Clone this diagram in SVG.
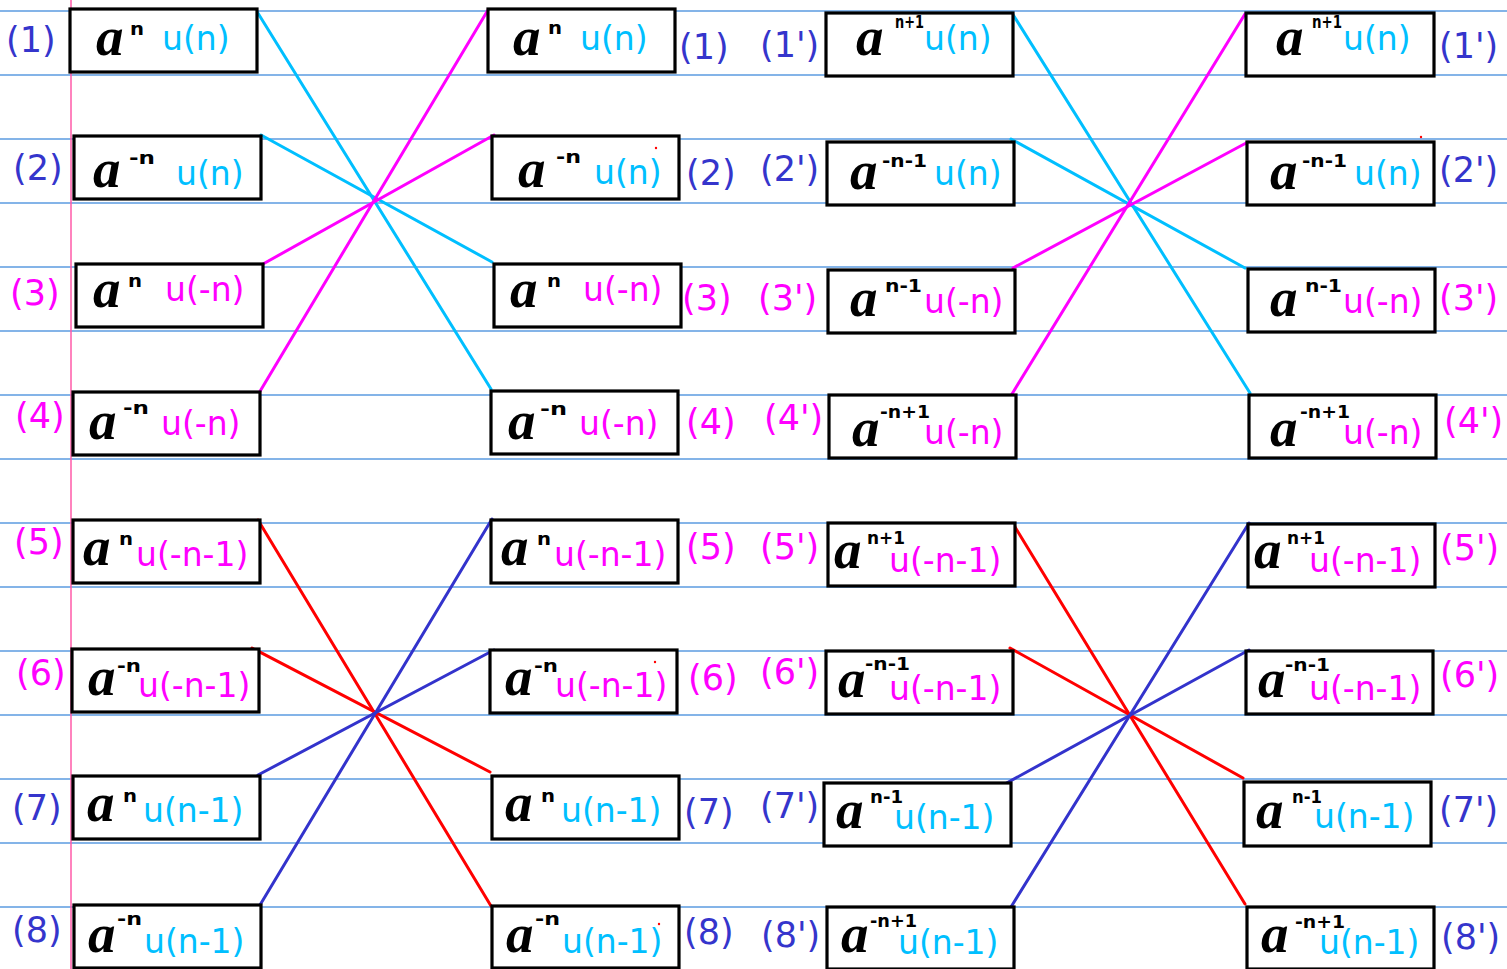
<svg xmlns="http://www.w3.org/2000/svg" width="1507" height="969" viewBox="0 0 1507 969">
<style>
.rule{stroke:#5b9be0;stroke-width:1.5}
.margin{stroke:#ff5aa8;stroke-width:1.5}
.box{fill:#fff;stroke:#000;stroke-width:3.2}
.a{font-family:"Liberation Serif",serif;font-style:italic;font-weight:bold;font-size:55px;fill:#000}
.sup{font-family:"DejaVu Sans",sans-serif;font-weight:bold;font-size:18px;fill:#000}
.u{font-family:"DejaVu Sans",sans-serif;font-size:33px}
.lb{font-family:"DejaVu Sans",sans-serif;font-size:35px}
.cy{fill:#00bfff}
.mg{fill:#ff00ff}
.bl{fill:#3535cc}
.c{stroke-width:3;fill:none;stroke-linecap:round}
.ccy{stroke:#00bfff}
.cmg{stroke:#ff00ff}
.cred{stroke:#ff0000}
.cbl{stroke:#3333cc}
</style>
<rect width="1507" height="969" fill="#fff"/>
<g id="paper">
<line class="rule" x1="0" y1="11" x2="1507" y2="11"/>
<line class="rule" x1="0" y1="75" x2="1507" y2="75"/>
<line class="rule" x1="0" y1="139" x2="1507" y2="139"/>
<line class="rule" x1="0" y1="203" x2="1507" y2="203"/>
<line class="rule" x1="0" y1="267" x2="1507" y2="267"/>
<line class="rule" x1="0" y1="331" x2="1507" y2="331"/>
<line class="rule" x1="0" y1="395" x2="1507" y2="395"/>
<line class="rule" x1="0" y1="459" x2="1507" y2="459"/>
<line class="rule" x1="0" y1="523" x2="1507" y2="523"/>
<line class="rule" x1="0" y1="587" x2="1507" y2="587"/>
<line class="rule" x1="0" y1="651" x2="1507" y2="651"/>
<line class="rule" x1="0" y1="715" x2="1507" y2="715"/>
<line class="rule" x1="0" y1="779" x2="1507" y2="779"/>
<line class="rule" x1="0" y1="843" x2="1507" y2="843"/>
<line class="rule" x1="0" y1="907" x2="1507" y2="907"/>
<line class="margin" x1="71" y1="0" x2="71" y2="969"/>
</g>
<g id="connectors">
<line class="c ccy" x1="256" y1="10" x2="491" y2="389"/>
<line class="c ccy" x1="261" y1="135" x2="492" y2="262"/>
<line class="c cmg" x1="259" y1="393" x2="488" y2="10"/>
<line class="c cmg" x1="263" y1="264" x2="494" y2="135"/>
<line class="c cred" x1="258" y1="520" x2="491" y2="906"/>
<line class="c cred" x1="252" y1="648" x2="490" y2="772"/>
<line class="c cbl" x1="258" y1="775" x2="494" y2="650"/>
<line class="c cbl" x1="260" y1="905" x2="492" y2="519"/>
<line class="c ccy" x1="1012" y1="13" x2="1250" y2="393"/>
<line class="c ccy" x1="1011" y1="139" x2="1245" y2="268"/>
<line class="c cmg" x1="1012" y1="394" x2="1245" y2="14"/>
<line class="c cmg" x1="1013" y1="268" x2="1248" y2="142"/>
<line class="c cred" x1="1015" y1="527" x2="1245" y2="904"/>
<line class="c cred" x1="1010" y1="648" x2="1243" y2="778"/>
<line class="c cbl" x1="1003" y1="785" x2="1249" y2="650"/>
<line class="c cbl" x1="1011" y1="907" x2="1249" y2="523"/>
</g>
<g id="c1n1"><rect class="box" x="70" y="9" width="187" height="63"/><text class="a" x="96" y="55">a</text><text class="sup" x="130" y="35" textLength="14" lengthAdjust="spacingAndGlyphs">n</text><text class="u cy" x="162" y="50">u(n)</text><text class="lb bl" x="6" y="52">(1)</text></g>
<g id="c1n2"><rect class="box" x="74" y="136" width="187" height="63"/><text class="a" x="93" y="187">a</text><text class="sup" x="129" y="164" textLength="26" lengthAdjust="spacingAndGlyphs">-n</text><text class="u cy" x="176" y="185">u(n)</text><text class="lb bl" x="13" y="180">(2)</text></g>
<g id="c1n3"><rect class="box" x="76" y="264" width="187" height="63"/><text class="a" x="93" y="307">a</text><text class="sup" x="128" y="287" textLength="14" lengthAdjust="spacingAndGlyphs">n</text><text class="u mg" x="165" y="301">u(-n)</text><text class="lb mg" x="10" y="305">(3)</text></g>
<g id="c1n4"><rect class="box" x="73" y="392" width="187" height="63"/><text class="a" x="89" y="439">a</text><text class="sup" x="123" y="414" textLength="26" lengthAdjust="spacingAndGlyphs">-n</text><text class="u mg" x="161" y="435">u(-n)</text><text class="lb mg" x="15" y="428">(4)</text></g>
<g id="c1n5"><rect class="box" x="73" y="520" width="187" height="63"/><text class="a" x="83" y="565">a</text><text class="sup" x="119" y="545" textLength="14" lengthAdjust="spacingAndGlyphs">n</text><text class="u mg" x="136" y="566">u(-n-1)</text><text class="lb mg" x="14" y="554">(5)</text></g>
<g id="c1n6"><rect class="box" x="72" y="649" width="187" height="63"/><text class="a" x="88" y="695">a</text><text class="sup" x="117" y="672" textLength="24" lengthAdjust="spacingAndGlyphs">-n</text><text class="u mg" x="138" y="697">u(-n-1)</text><text class="lb mg" x="16" y="685">(6)</text></g>
<g id="c1n7"><rect class="box" x="73" y="776" width="187" height="63"/><text class="a" x="87" y="821">a</text><text class="sup" x="123" y="802" textLength="14" lengthAdjust="spacingAndGlyphs">n</text><text class="u cy" x="143" y="822">u(n-1)</text><text class="lb bl" x="12" y="820">(7)</text></g>
<g id="c1n8"><rect class="box" x="74" y="905" width="187" height="63"/><text class="a" x="88" y="952">a</text><text class="sup" x="117" y="925" textLength="25" lengthAdjust="spacingAndGlyphs">-n</text><text class="u cy" x="144" y="953">u(n-1)</text><text class="lb bl" x="12" y="942">(8)</text></g>
<g id="c2n1"><rect class="box" x="488" y="9" width="187" height="63"/><text class="a" x="513" y="55">a</text><text class="sup" x="548" y="34" textLength="14" lengthAdjust="spacingAndGlyphs">n</text><text class="u cy" x="580" y="50">u(n)</text><text class="lb bl" x="679" y="59">(1)</text></g>
<g id="c2n2"><rect class="box" x="492" y="136" width="187" height="63"/><text class="a" x="518" y="187">a</text><text class="sup" x="556" y="163" textLength="25" lengthAdjust="spacingAndGlyphs">-n</text><text class="u cy" x="594" y="184">u(n)</text><text class="lb bl" x="686" y="185">(2)</text></g>
<g id="c2n3"><rect class="box" x="494" y="264" width="187" height="63"/><text class="a" x="510" y="307">a</text><text class="sup" x="547" y="287" textLength="14" lengthAdjust="spacingAndGlyphs">n</text><text class="u mg" x="583" y="301">u(-n)</text><text class="lb mg" x="682" y="310">(3)</text></g>
<g id="c2n4"><rect class="box" x="491" y="391" width="187" height="63"/><text class="a" x="508" y="439">a</text><text class="sup" x="540" y="415" textLength="27" lengthAdjust="spacingAndGlyphs">-n</text><text class="u mg" x="579" y="435">u(-n)</text><text class="lb mg" x="686" y="434">(4)</text></g>
<g id="c2n5"><rect class="box" x="491" y="520" width="187" height="63"/><text class="a" x="501" y="565">a</text><text class="sup" x="537" y="545" textLength="14" lengthAdjust="spacingAndGlyphs">n</text><text class="u mg" x="554" y="566">u(-n-1)</text><text class="lb mg" x="686" y="559">(5)</text></g>
<g id="c2n6"><rect class="box" x="490" y="650" width="187" height="63"/><text class="a" x="505" y="695">a</text><text class="sup" x="534" y="672" textLength="24" lengthAdjust="spacingAndGlyphs">-n</text><text class="u mg" x="555" y="697">u(-n-1)</text><text class="lb mg" x="688" y="690">(6)</text></g>
<g id="c2n7"><rect class="box" x="492" y="776" width="187" height="63"/><text class="a" x="505" y="821">a</text><text class="sup" x="541" y="802" textLength="14" lengthAdjust="spacingAndGlyphs">n</text><text class="u cy" x="561" y="822">u(n-1)</text><text class="lb bl" x="684" y="824">(7)</text></g>
<g id="c2n8"><rect class="box" x="492" y="906" width="187" height="62"/><text class="a" x="506" y="952">a</text><text class="sup" x="535" y="925" textLength="25" lengthAdjust="spacingAndGlyphs">-n</text><text class="u cy" x="562" y="953">u(n-1)</text><text class="lb bl" x="684" y="944">(8)</text></g>
<g id="c3n1"><rect class="box" x="826" y="13" width="187" height="63"/><text class="a" x="856" y="55">a</text><text class="sup" x="895" y="28" textLength="29" lengthAdjust="spacingAndGlyphs">n+1</text><text class="u cy" x="924" y="50">u(n)</text><text class="lb bl" x="760" y="57">(1')</text></g>
<g id="c3n2"><rect class="box" x="827" y="142" width="187" height="63"/><text class="a" x="850" y="189">a</text><text class="sup" x="882" y="167" textLength="45" lengthAdjust="spacingAndGlyphs">-n-1</text><text class="u cy" x="934" y="185">u(n)</text><text class="lb bl" x="760" y="181">(2')</text></g>
<g id="c3n3"><rect class="box" x="828" y="270" width="187" height="63"/><text class="a" x="850" y="316">a</text><text class="sup" x="885" y="292" textLength="37" lengthAdjust="spacingAndGlyphs">n-1</text><text class="u mg" x="924" y="313">u(-n)</text><text class="lb mg" x="758" y="310">(3')</text></g>
<g id="c3n4"><rect class="box" x="829" y="395" width="187" height="63"/><text class="a" x="852" y="446">a</text><text class="sup" x="880" y="418" textLength="50" lengthAdjust="spacingAndGlyphs">-n+1</text><text class="u mg" x="924" y="444">u(-n)</text><text class="lb mg" x="764" y="430">(4')</text></g>
<g id="c3n5"><rect class="box" x="828" y="523" width="187" height="63"/><text class="a" x="834" y="568">a</text><text class="sup" x="867" y="544" textLength="38" lengthAdjust="spacingAndGlyphs">n+1</text><text class="u mg" x="889" y="572">u(-n-1)</text><text class="lb mg" x="760" y="559">(5')</text></g>
<g id="c3n6"><rect class="box" x="826" y="651" width="187" height="63"/><text class="a" x="838" y="697">a</text><text class="sup" x="865" y="670" textLength="45" lengthAdjust="spacingAndGlyphs">-n-1</text><text class="u mg" x="889" y="700">u(-n-1)</text><text class="lb mg" x="760" y="684">(6')</text></g>
<g id="c3n7"><rect class="box" x="824" y="783" width="187" height="63"/><text class="a" x="836" y="828">a</text><text class="sup" x="870" y="803" textLength="33" lengthAdjust="spacingAndGlyphs">n-1</text><text class="u cy" x="894" y="829">u(n-1)</text><text class="lb bl" x="760" y="818">(7')</text></g>
<g id="c3n8"><rect class="box" x="827" y="907" width="187" height="62"/><text class="a" x="841" y="952">a</text><text class="sup" x="870" y="927" textLength="47" lengthAdjust="spacingAndGlyphs">-n+1</text><text class="u cy" x="898" y="954">u(n-1)</text><text class="lb bl" x="761" y="947">(8')</text></g>
<g id="c4n1"><rect class="box" x="1246" y="13" width="188" height="63"/><text class="a" x="1276" y="55">a</text><text class="sup" x="1312" y="28" textLength="30" lengthAdjust="spacingAndGlyphs">n+1</text><text class="u cy" x="1343" y="50">u(n)</text><text class="lb bl" x="1439" y="58">(1')</text></g>
<g id="c4n2"><rect class="box" x="1247" y="142" width="187" height="63"/><text class="a" x="1270" y="189">a</text><text class="sup" x="1302" y="167" textLength="45" lengthAdjust="spacingAndGlyphs">-n-1</text><text class="u cy" x="1354" y="185">u(n)</text><text class="lb bl" x="1439" y="182">(2')</text></g>
<g id="c4n3"><rect class="box" x="1248" y="269" width="187" height="63"/><text class="a" x="1270" y="316">a</text><text class="sup" x="1305" y="292" textLength="37" lengthAdjust="spacingAndGlyphs">n-1</text><text class="u mg" x="1343" y="313">u(-n)</text><text class="lb mg" x="1439" y="310">(3')</text></g>
<g id="c4n4"><rect class="box" x="1249" y="395" width="187" height="63"/><text class="a" x="1270" y="446">a</text><text class="sup" x="1300" y="418" textLength="50" lengthAdjust="spacingAndGlyphs">-n+1</text><text class="u mg" x="1343" y="444">u(-n)</text><text class="lb mg" x="1444" y="433">(4')</text></g>
<g id="c4n5"><rect class="box" x="1248" y="524" width="187" height="63"/><text class="a" x="1254" y="568">a</text><text class="sup" x="1287" y="544" textLength="38" lengthAdjust="spacingAndGlyphs">n+1</text><text class="u mg" x="1309" y="572">u(-n-1)</text><text class="lb mg" x="1440" y="560">(5')</text></g>
<g id="c4n6"><rect class="box" x="1246" y="651" width="187" height="63"/><text class="a" x="1258" y="697">a</text><text class="sup" x="1285" y="671" textLength="45" lengthAdjust="spacingAndGlyphs">-n-1</text><text class="u mg" x="1309" y="700">u(-n-1)</text><text class="lb mg" x="1440" y="687">(6')</text></g>
<g id="c4n7"><rect class="box" x="1244" y="782" width="187" height="64"/><text class="a" x="1256" y="828">a</text><text class="sup" x="1292" y="803" textLength="30" lengthAdjust="spacingAndGlyphs">n-1</text><text class="u cy" x="1314" y="828">u(n-1)</text><text class="lb bl" x="1439" y="822">(7')</text></g>
<g id="c4n8"><rect class="box" x="1247" y="907" width="187" height="62"/><text class="a" x="1261" y="952">a</text><text class="sup" x="1295" y="928" textLength="50" lengthAdjust="spacingAndGlyphs">-n+1</text><text class="u cy" x="1319" y="954">u(n-1)</text><text class="lb bl" x="1441" y="949">(8')</text></g>
<g id="specks" fill="#ff0000">
<circle cx="656" cy="148" r="1.2"/>
<circle cx="1421" cy="137" r="1.2"/>
<circle cx="655" cy="662" r="1.2"/>
<circle cx="659" cy="924" r="1.2"/>
</g>
</svg>
